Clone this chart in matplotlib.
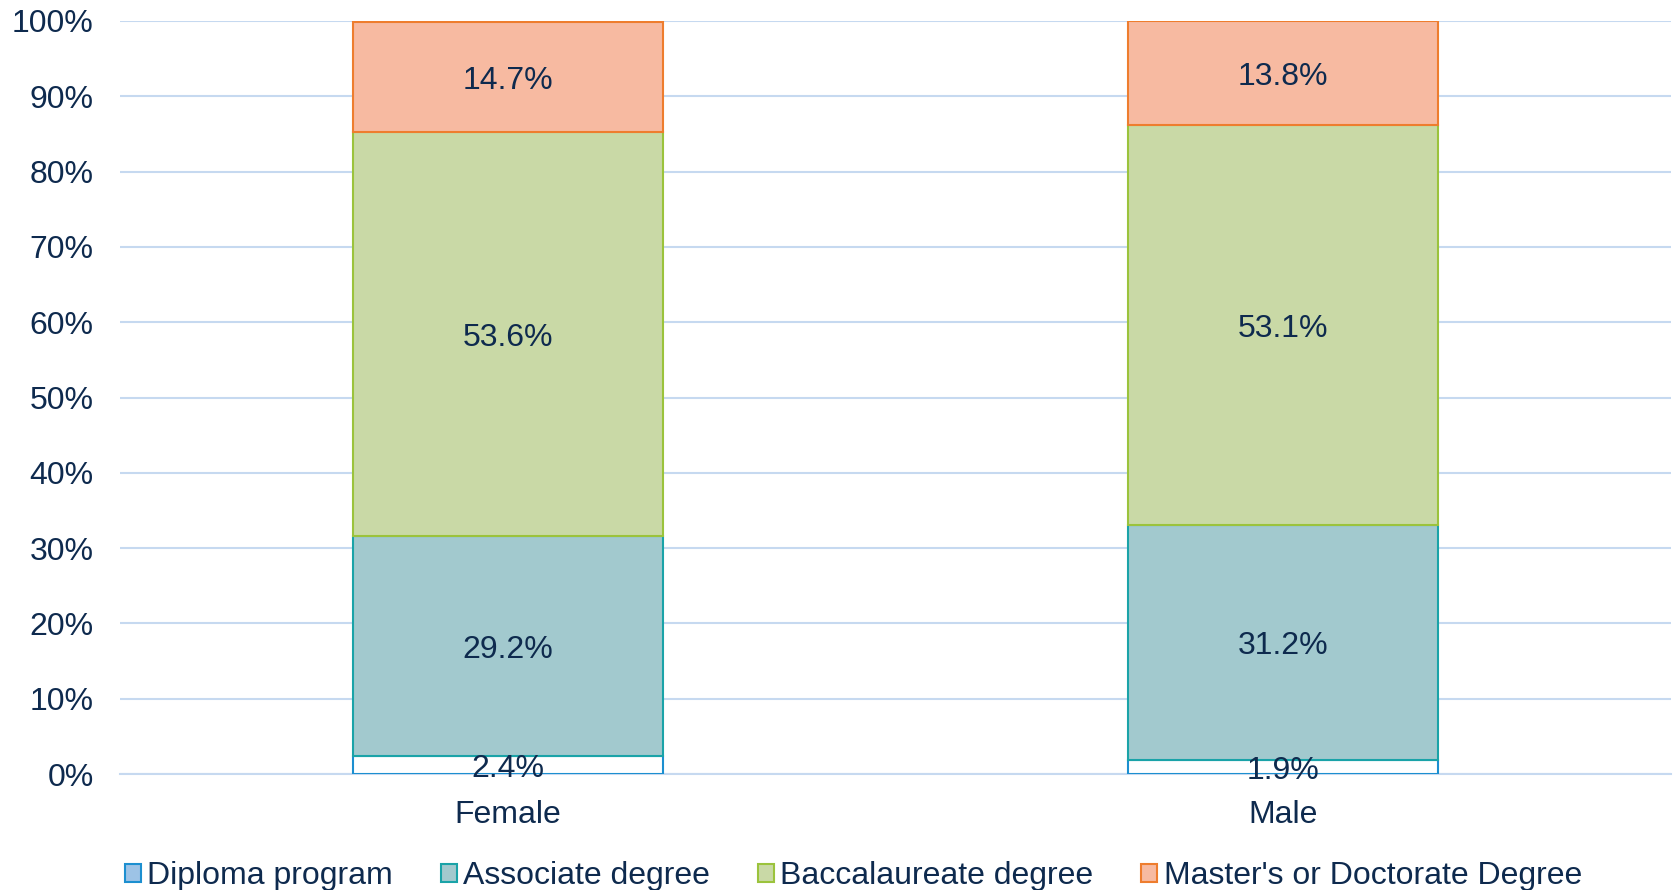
import numpy as np
import matplotlib.pyplot as plt
from matplotlib.patches import Patch

plt.rcParams['font.family'] = ['Liberation Sans', 'DejaVu Sans']

groups = ["Female", "Male"]
series = ["Diploma program", "Associate degree", "Baccalaureate degree",
          "Master's or Doctorate Degree"]
diploma = [2.4, 1.9]
associate = [29.2, 31.2]
baccalaureate = [53.6, 53.1]
masters = [14.7, 13.8]

values = [diploma, associate, baccalaureate, masters]
fills = ["#FFFFFF", "#A2C9CE", "#C9D9A6", "#F7BAA1"]
legend_fills = ["#9DC3E6", "#A2C9CE", "#C9D9A6", "#F7BAA1"]
edges = ["#1C8FD0", "#1AA3A8", "#9BC33C", "#EE7D2E"]
txt = "#0E2A4E"
fs = 23

fig = plt.figure(figsize=(16.8, 8.9), dpi=100)
ax = fig.add_axes([120/1680, 1 - 774/890, 1551/1680, 753/890])

x = np.arange(len(groups))
bottom = np.zeros(len(groups))
for vals, fc, ec in zip(values, fills, edges):
    vals = np.array(vals)
    ax.bar(x, vals, 0.4, bottom=bottom, color=fc, edgecolor=ec, linewidth=1.5, zorder=3)
    for xi, b, v in zip(x, bottom, vals):
        ax.annotate(f"{v:.1f}%", (xi, b + v / 2), xytext=(0, -3), textcoords="offset points",
                    ha="center", va="center", fontsize=fs, color=txt, zorder=4)
    bottom += vals

ax.set_xlim(-0.5, 1.5)
ax.set_ylim(0, 100)
ax.set_yticks(np.arange(0, 101, 10))
ax.set_yticklabels([f"{t}%" for t in range(0, 101, 10)])
ax.set_xticks(x)
ax.set_xticklabels(groups)
ax.tick_params(axis="both", length=0, labelsize=fs, labelcolor=txt)
ax.tick_params(axis="x", pad=18.5)
ax.tick_params(axis="y", pad=19)
ax.grid(axis="y", color="#C6D9F0", linewidth=1.5, zorder=0)
for s in ["top", "right", "left"]:
    ax.spines[s].set_visible(False)
ax.spines["bottom"].set_color("#C6D9F0")
ax.spines["bottom"].set_linewidth(1.5)

handles = [Patch(facecolor=f, edgecolor=e, linewidth=1.5) for f, e in zip(legend_fills, edges)]
fig.legend(handles, series, loc="center", bbox_to_anchor=(0.508, 1 - 876/890), ncol=4,
           frameon=False, fontsize=fs, labelcolor=txt, handlelength=0.5,
           handleheight=0.5, handletextpad=0.2, columnspacing=1.5)

fig.savefig("out.png", dpi=100)
